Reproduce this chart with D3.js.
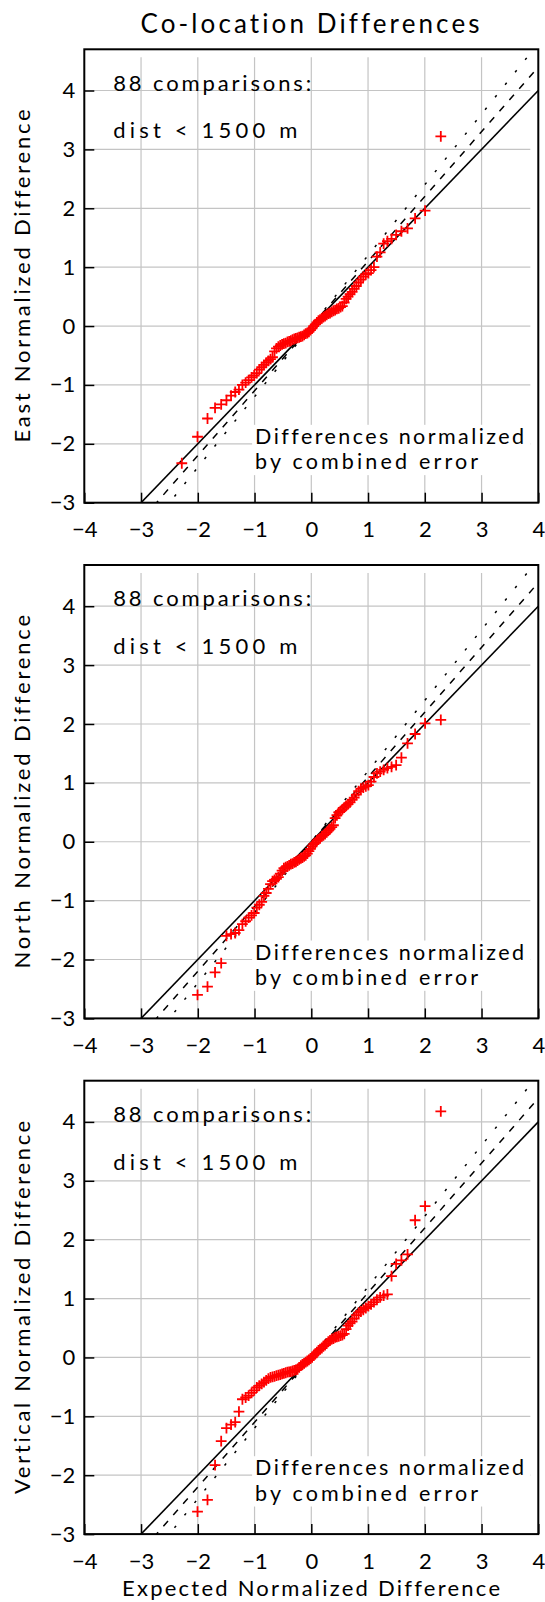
<!DOCTYPE html>
<html><head><meta charset="utf-8">
<script src="https://cdn.jsdelivr.net/npm/d3@7"></script>
<style>
body{margin:0;background:#fff}
svg{display:block}
text{font-family:Lato,"DejaVu Sans",sans-serif;font-weight:400;fill:#000;font-variant-ligatures:none;font-feature-settings:"liga" 0,"clig" 0}
</style>
</head><body>
<svg id="chart" width="545" height="1602"></svg>
<script>
// ---------------- data ----------------
const expectedX = [-2.282,-2.005,-1.829,-1.696,-1.588,-1.495,-1.414,-1.341,-1.275,-1.214,
 -1.157,-1.104,-1.053,-1.006,-0.960,-0.916,-0.874,-0.834,-0.794,-0.756,
 -0.719,-0.683,-0.648,-0.614,-0.580,-0.547,-0.515,-0.483,-0.451,-0.420,
 -0.390,-0.360,-0.330,-0.300,-0.271,-0.242,-0.213,-0.184,-0.156,-0.127,
 -0.099,-0.070,-0.042,-0.014,0.014,0.042,0.070,0.099,0.127,0.156,
 0.184,0.213,0.242,0.271,0.300,0.330,0.360,0.390,0.420,0.451,
 0.483,0.515,0.547,0.580,0.614,0.648,0.683,0.719,0.756,0.794,
 0.834,0.874,0.916,0.960,1.006,1.053,1.104,1.157,1.214,1.275,
 1.341,1.414,1.495,1.588,1.696,1.829,2.005,2.282];

const eastY = [-2.33,-1.88,-1.57,-1.39,-1.33,-1.26,-1.18,-1.12,-1.08,-1.00,
 -0.96,-0.92,-0.87,-0.84,-0.80,-0.74,-0.70,-0.66,-0.62,-0.59,
 -0.56,-0.53,-0.43,-0.38,-0.35,-0.33,-0.31,-0.30,-0.29,-0.27,
 -0.26,-0.25,-0.23,-0.22,-0.21,-0.20,-0.19,-0.18,-0.17,-0.15,
 -0.13,-0.12,-0.10,-0.07,-0.04,0.00,0.03,0.06,0.09,0.11,
 0.13,0.15,0.17,0.19,0.21,0.22,0.24,0.26,0.27,0.29,
 0.30,0.32,0.34,0.40,0.46,0.50,0.54,0.58,0.63,0.68,
 0.74,0.79,0.84,0.88,0.90,0.95,1.00,1.18,1.25,1.40,
 1.44,1.48,1.55,1.61,1.66,1.83,1.96,3.22];

const northY = [-3.30,-2.60,-2.46,-2.22,-2.06,-1.60,-1.57,-1.55,-1.50,-1.40,
 -1.35,-1.29,-1.25,-1.21,-1.12,-1.07,-1.02,-0.92,-0.87,-0.80,
 -0.72,-0.67,-0.65,-0.63,-0.60,-0.54,-0.49,-0.45,-0.43,-0.42,
 -0.40,-0.38,-0.37,-0.35,-0.34,-0.32,-0.30,-0.28,-0.27,-0.25,
 -0.23,-0.20,-0.16,-0.12,-0.08,-0.04,-0.02,0.02,0.04,0.06,
 0.09,0.11,0.13,0.16,0.19,0.22,0.25,0.28,0.40,0.45,
 0.50,0.52,0.55,0.58,0.61,0.64,0.67,0.71,0.75,0.80,
 0.86,0.90,0.92,0.94,0.96,1.02,1.10,1.16,1.19,1.22,
 1.25,1.27,1.30,1.43,1.67,1.83,2.01,2.07];

const verticalY = [-3.30,-2.62,-2.42,-1.83,-1.42,-1.20,-1.14,-1.10,-0.92,-0.71,
 -0.68,-0.65,-0.60,-0.56,-0.51,-0.48,-0.45,-0.42,-0.39,-0.36,
 -0.34,-0.33,-0.32,-0.31,-0.30,-0.29,-0.28,-0.27,-0.26,-0.25,
 -0.245,-0.24,-0.23,-0.22,-0.21,-0.20,-0.17,-0.14,-0.12,-0.10,
 -0.08,-0.06,-0.04,-0.02,0.00,0.03,0.06,0.09,0.12,0.14,
 0.16,0.19,0.21,0.24,0.27,0.29,0.31,0.32,0.34,0.35,
 0.36,0.37,0.38,0.40,0.48,0.54,0.58,0.61,0.66,0.72,
 0.76,0.78,0.81,0.84,0.87,0.90,0.94,0.98,1.02,1.05,
 1.07,1.38,1.59,1.65,1.75,2.33,2.57,4.18];

const panelNames = ["East", "North", "Vertical"];
const panelSeries = [eastY, northY, verticalY];
const xTickValues = [-4,-3,-2,-1,0,1,2,3,4];
const yTickValues = [-3,-2,-1,0,1,2,3,4];
const gridXValues = [-3,-2,-1,0,1,2,3];
const gridYValues = [-2,-1,0,1,2,3,4];
const refSlopes = [1.0, 1.1, 1.2];
const chartTitle = "Co-location Differences";
const xAxisTitle = "Expected Normalized Difference";
const yAxisSuffix = " Normalized Difference";
const noteLines = ["88 comparisons:", "dist < 1500 m"];
const boxLines = ["Differences normalized", "by combined error"];

// ---------------- layout ----------------
const svg = d3.select("#chart");
const left = 84.3, right = 538.3, panelH = 453.4;
const panelTops = [49.3, 565, 1080.7];
const refDash = [null, "7,8", "2.5,13.5"];
const x = d3.scaleLinear().domain([-4, 4]).range([left, right]);
const FONT = 'Lato,"DejaVu Sans",sans-serif';

function fitText(sel, w) {
  sel.attr("textLength", w).attr("lengthAdjust", "spacing");
}

// title
const t = svg.append("text").attr("x", 310).attr("y", 33)
  .attr("text-anchor", "middle").style("font-size", "26px").text(chartTitle);
fitText(t, 339);

// x axis title (measured to derive y-title scale)
const xt = svg.append("text").attr("x", 311).attr("y", 1596)
  .attr("text-anchor", "middle").style("font-size", "22px").text(xAxisTitle);
const widthRatio = 378 / xt.node().getComputedTextLength() * 1.045;
fitText(xt, 378);

panelSeries.forEach((series, pi) => {
  const top = panelTops[pi];
  const bottom = top + panelH;
  const y = d3.scaleLinear().domain([-3, 4.7]).range([bottom, top]);
  const g = svg.append("g");

  const clipId = "clip" + pi;
  svg.append("clipPath").attr("id", clipId).append("rect")
    .attr("x", left).attr("y", top).attr("width", right - left).attr("height", panelH);

  // grid
  g.append("g").selectAll("line").data(gridXValues).join("line")
    .attr("x1", d => x(d)).attr("x2", d => x(d))
    .attr("y1", top + 8).attr("y2", bottom)
    .attr("stroke", "#c4c4c4").attr("stroke-width", 1.2);
  g.append("g").selectAll("line").data(gridYValues).join("line")
    .attr("x1", left).attr("x2", right - 8)
    .attr("y1", d => y(d)).attr("y2", d => y(d))
    .attr("stroke", "#c4c4c4").attr("stroke-width", 1.2);

  // reference lines
  const lg = g.append("g").attr("clip-path", `url(#${clipId})`);
  refSlopes.forEach((s, si) => {
    const line = d3.line().x(d => x(d)).y(d => y(s * d));
    lg.append("path").attr("d", line([-4, 4]))
      .attr("fill", "none").attr("stroke", "#000")
      .attr("stroke-width", si === 0 ? 1.6 : 1.5)
      .attr("stroke-dasharray", refDash[si]);
  });

  // points
  const pts = expectedX.map((ex, i) => ({ex, v: series[i]}));
  g.append("g").attr("clip-path", `url(#${clipId})`)
    .selectAll("path").data(pts).join("path")
    .attr("transform", d => `translate(${x(d.ex)},${y(d.v)})`)
    .attr("d", "M-5.4,0H5.4M0,-5.4V5.4")
    .attr("stroke", "#ff0000").attr("stroke-width", 1.8).attr("fill", "none");

  // notes
  const n1 = g.append("text").attr("x", x(-3.49)).attr("y", y(4.0))
    .style("font-size", "22px").text(noteLines[0]);
  fitText(n1, 198);
  const n2 = g.append("text").attr("x", x(-3.49)).attr("y", y(3.19))
    .style("font-size", "22px").text(noteLines[1]);
  fitText(n2, 184);

  const boxG = g.append("g");
  const rect = boxG.append("rect").attr("fill", "#fff");
  const bt = boxG.append("text").style("font-size", "21.5px");
  const s1 = bt.append("tspan").attr("x", x(-0.99)).attr("y", y(-2.0)).text(boxLines[0]);
  fitText(s1, 269);
  const s2 = bt.append("tspan").attr("x", x(-0.99)).attr("y", y(-2.43)).text(boxLines[1]);
  fitText(s2, 223);
  rect.attr("x", x(-0.99) - 3).attr("y", y(-2.0) - 19)
    .attr("width", 278).attr("height", y(-2.43) - y(-2.0) + 25);

  // axes
  const ay = g.append("g").attr("transform", `translate(${left},0)`)
    .call(d3.axisLeft(y).tickValues(yTickValues).tickSizeInner(-10).tickSizeOuter(0).tickPadding(9));
  ay.select(".domain").remove();
  ay.selectAll("line").attr("stroke", "#000").attr("stroke-width", 1.5);
  ay.selectAll("text").style("font-size", "22px").style("font-family", FONT).style("font-weight", 400);

  const ax = g.append("g").attr("transform", `translate(0,${bottom})`)
    .call(d3.axisBottom(x).tickValues(xTickValues).tickSizeInner(-10).tickSizeOuter(0).tickPadding(19));
  ax.select(".domain").remove();
  ax.selectAll("line").attr("stroke", "#000").attr("stroke-width", 1.5);
  ax.selectAll("text").style("font-size", "22px").style("font-family", FONT).style("font-weight", 400);

  // frame
  g.append("rect").attr("x", left).attr("y", top).attr("width", right - left).attr("height", panelH)
    .attr("fill", "none").attr("stroke", "#000").attr("stroke-width", 2);

  // y title
  const cy = (top + bottom) / 2;
  const yt = g.append("text").attr("transform", `translate(30,${cy}) rotate(-90)`)
    .attr("text-anchor", "middle").style("font-size", "22px")
    .text(panelNames[pi] + yAxisSuffix);
  fitText(yt, yt.node().getComputedTextLength() * widthRatio);
});
</script>
</body></html>
